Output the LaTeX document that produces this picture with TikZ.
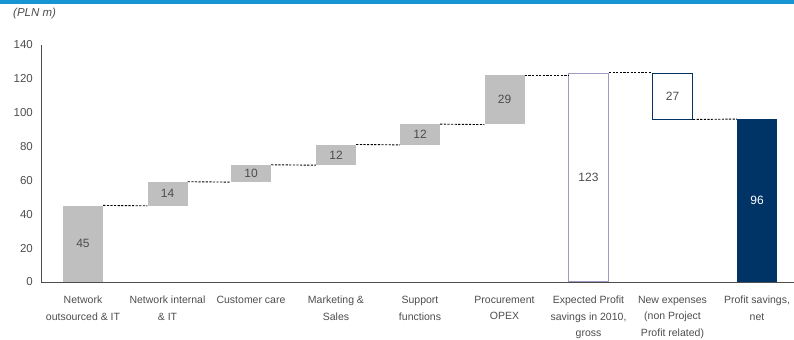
\documentclass[tikz,border=0pt]{standalone}
\usepackage{fontspec}
\setmainfont{Liberation Sans}
\usepackage{tikz}
\usetikzlibrary{positioning}
\definecolor{barg}{HTML}{BFBFBF}
\definecolor{navy}{HTML}{003366}
\definecolor{lav}{HTML}{9B9BC4}
\definecolor{txt}{HTML}{4D4D4D}
\definecolor{topblue}{HTML}{1596D3}
\tikzset{
    barh/.style = {minimum height=#1*1.693pt},
    gbar/.style = {rectangle, anchor=south, inner sep=0pt, minimum width=40pt, fill=barg, text=txt, font=\fontsize{12}{14}\selectfont},
    obar/.style = {gbar, fill=white, draw=lav, line width=0.9pt},
    nbar/.style = {gbar, fill=white, draw=navy, line width=0.9pt},
    fbar/.style = {gbar, fill=navy, text=white},
    cat/.style = {anchor=north, align=center, inner sep=0pt, text=txt, font=\fontsize{10.5}{16.5}\selectfont},
    tick/.style = {anchor=east, inner sep=0pt, text=txt, font=\fontsize{11.5}{13}\selectfont},
    edged/.style = {line width=0.9pt, black, dash pattern=on 2.2pt off 1.4pt}, % step
    axis/.style = {line width=1pt, draw=txt}
}

\begin{document}
\begin{tikzpicture}[x=1pt, y=1.693pt]
\useasboundingbox (0,-33.67) rectangle (794,166.57);
\fill[topblue] (0,164.5) rectangle (794,166.57);
\node[anchor=west, inner sep=0pt, text=txt, font=\fontsize{11.5}{13}\selectfont\itshape] at (13,158.3) (unit) {(PLN m)};
%
\draw[axis] (41,0) -- (41,140);
\draw[axis] (41,0) -- (794,0);
\node[tick] at (33,0) (t0) {0};
\node[tick] at (33,20) (t20) {20};
\node[tick] at (33,40) (t40) {40};
\node[tick] at (33,60) (t60) {60};
\node[tick] at (33,80) (t80) {80};
\node[tick] at (33,100) (t100) {100};
\node[tick] at (33,120) (t120) {120};
\node[tick] at (33,140) (t140) {140};
%
\node[gbar, barh=45] at (83.0, 0) (a) {45};
\node[gbar, barh=14] at (167.5, 45) (b) {14};
\node[gbar, barh=10] at (251.0, 59) (c) {10};
\node[gbar, barh=12] at (336.0, 69) (d) {12};
\node[gbar, barh=12] at (420.0, 81) (e) {12};
\node[gbar, barh=29] at (504.5, 93) (f) {29};
\node[obar, barh=123] at (588.5, 0) (g) {123};
\node[nbar, barh=27] at (672.5, 96) (h) {27};
\node[fbar, barh=96] at (757.0, 0) (i) {96};
%
\draw[edged] (a.north east) -- (b.south west);
\draw[edged] (b.north east) -- (c.south west);
\draw[edged] (c.north east) -- (d.south west);
\draw[edged] (d.north east) -- (e.south west);
\draw[edged] (e.north east) -- (f.south west);
\draw[edged] (f.north east) -- (f.north east -| g.west);
\draw[edged] (g.north east) -- (h.north west);
\draw[edged] (h.south east) -- (i.north west);
%
\node[cat] at (83.0, -8.27) (la) {Network\\outsourced \& IT};
\node[cat] at (167.5, -8.27) (lb) {Network internal\\\& IT};
\node[cat] at (251.0, -8.27) (lc) {Customer care};
\node[cat] at (336.0, -8.27) (ld) {Marketing \&\\Sales};
\node[cat] at (420.0, -8.27) (le) {Support\\functions};
\node[cat] at (504.5, -8.27) (lf) {Procurement\\OPEX};
\node[cat] at (588.5, -8.27) (lg) {Expected Profit\\savings in 2010,\\gross};
\node[cat] at (672.5, -8.27) (lh) {New expenses\\(non Project\\Profit related)};
\node[cat] at (757.0, -8.27) (li) {Profit savings,\\net};

\end{tikzpicture}
\end{document}
